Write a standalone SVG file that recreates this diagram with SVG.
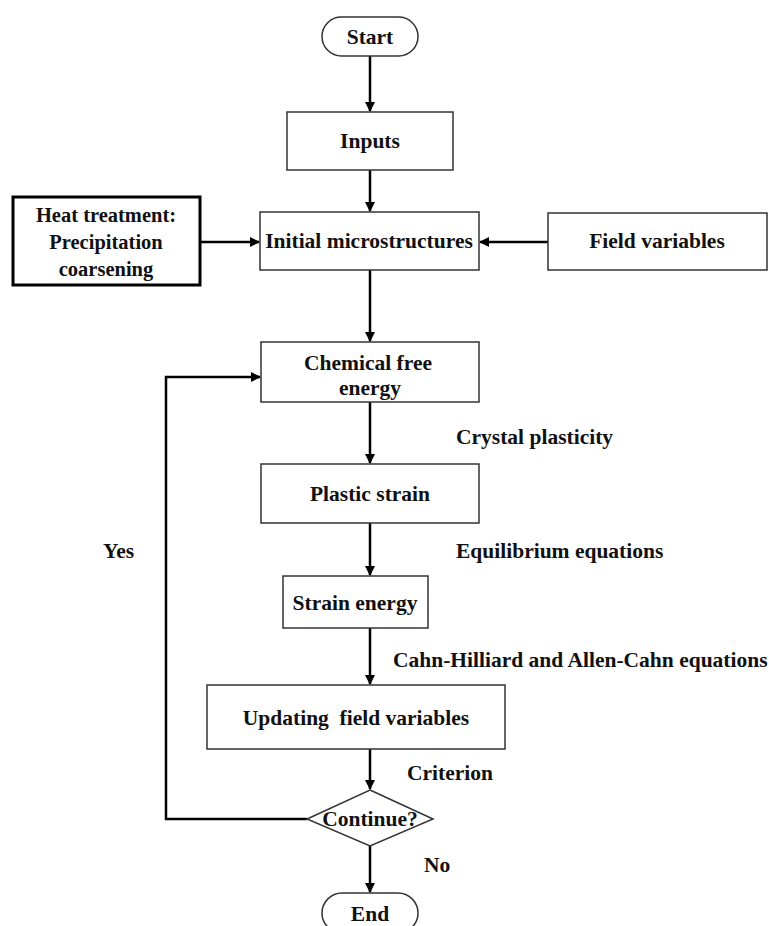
<svg xmlns="http://www.w3.org/2000/svg" width="769" height="926" viewBox="0 0 769 926">
<defs>
<marker id="ah" markerWidth="10" markerHeight="10" refX="9" refY="5" orient="auto" markerUnits="userSpaceOnUse">
<path d="M0,0 L10,5 L0,10 Z" fill="#000"/>
</marker>
<style>
.box{fill:#fff;stroke:#333;stroke-width:1.5}
.thick{fill:#fff;stroke:#000;stroke-width:3}
text{font-family:'Liberation Serif',serif;font-weight:bold;font-size:21.5px;fill:#111}
.t{text-anchor:middle}
.s{font-size:20.5px}
.c{fill:none;stroke:#000;stroke-width:2.5}
</style>
</defs>
<rect width="769" height="926" fill="#fff"/>
<g id="connectors">
<line class="c" x1="370" y1="56" x2="370" y2="111" marker-end="url(#ah)"/>
<line class="c" x1="370" y1="170" x2="370" y2="211" marker-end="url(#ah)"/>
<line class="c" x1="200" y1="242" x2="259" y2="242" marker-end="url(#ah)"/>
<line class="c" x1="548" y1="242" x2="480" y2="242" marker-end="url(#ah)"/>
<line class="c" x1="370" y1="270" x2="370" y2="341" marker-end="url(#ah)"/>
<line class="c" x1="370" y1="402" x2="370" y2="463" marker-end="url(#ah)"/>
<line class="c" x1="370" y1="523" x2="370" y2="575" marker-end="url(#ah)"/>
<line class="c" x1="370" y1="628" x2="370" y2="684" marker-end="url(#ah)"/>
<line class="c" x1="370" y1="749" x2="370" y2="789" marker-end="url(#ah)"/>
<line class="c" x1="370" y1="846" x2="370" y2="892" marker-end="url(#ah)"/>
<polyline class="c" points="307,819 166,819 166,377 260,377" marker-end="url(#ah)"/>
<text x="456" y="444">Crystal plasticity</text>
<text x="456" y="558">Equilibrium equations</text>
<text x="393" y="667">Cahn-Hilliard and Allen-Cahn equations</text>
<text x="407" y="780">Criterion</text>
<text x="424" y="872">No</text>
<text x="103" y="558">Yes</text>
</g>
<g id="start">
<rect class="box" x="322" y="17" width="96" height="39" rx="19.5"/>
<text class="t" x="370" y="44">Start</text>
</g>
<g id="inputs">
<rect class="box" x="287" y="112" width="166" height="58"/>
<text class="t" x="370" y="148">Inputs</text>
</g>
<g id="heat">
<rect class="thick" x="13" y="197" width="187" height="88"/>
<text class="t s" x="106" y="222">Heat treatment:</text>
<text class="t s" x="106" y="249">Precipitation</text>
<text class="t s" x="106" y="276">coarsening</text>
</g>
<g id="initial">
<rect class="box" x="260" y="212" width="219" height="58"/>
<text class="t" x="369" y="248">Initial microstructures</text>
</g>
<g id="field">
<rect class="box" x="548" y="213" width="219" height="57"/>
<text class="t" x="657" y="248">Field variables</text>
</g>
<g id="chemical">
<rect class="box" x="261" y="342" width="218" height="60"/>
<text class="t" x="368" y="370">Chemical free</text>
<text class="t" x="370" y="395">energy</text>
</g>
<g id="plastic">
<rect class="box" x="261" y="464" width="218" height="59"/>
<text class="t" x="370" y="501">Plastic strain</text>
</g>
<g id="strain">
<rect class="box" x="283" y="576" width="145" height="52"/>
<text class="t" x="355" y="610">Strain energy</text>
</g>
<g id="updating">
<rect class="box" x="207" y="685" width="298" height="64"/>
<text class="t" x="356" y="725" xml:space="preserve">Updating  field variables</text>
</g>
<g id="continue">
<polygon class="box" points="370,790 433,819 370,846 307,819"/>
<text class="t" x="370" y="826">Continue?</text>
</g>
<g id="end">
<rect class="box" x="322" y="893" width="96" height="40" rx="20"/>
<text class="t" x="370" y="921">End</text>
</g>
</svg>
